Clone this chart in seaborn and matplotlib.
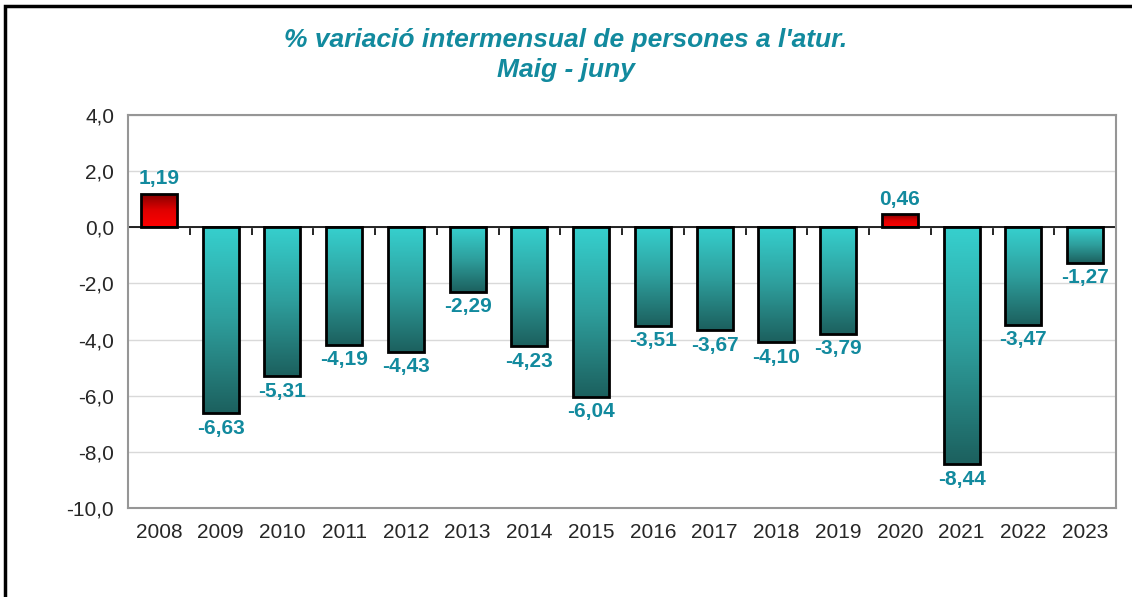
import numpy as np
import pandas as pd
import seaborn as sns
import matplotlib.pyplot as plt
from matplotlib.colors import LinearSegmentedColormap
from matplotlib.patches import Rectangle

years = ['2008', '2009', '2010', '2011', '2012', '2013', '2014', '2015',
         '2016', '2017', '2018', '2019', '2020', '2021', '2022', '2023']
values = [1.19, -6.63, -5.31, -4.19, -4.43, -2.29, -4.23, -6.04,
          -3.51, -3.67, -4.10, -3.79, 0.46, -8.44, -3.47, -1.27]
title_1 = "% variació intermensual de persones a l'atur."
title_2 = "Maig - juny"

df = pd.DataFrame({'any': years, 'variacio': values})

sns.set_style('white')
plt.rcParams['font.family'] = ['Liberation Sans', 'DejaVu Sans']

teal_txt = '#128A9E'
grid_c = '#D9D9D9'
frame_c = '#969696'

fig = plt.figure(figsize=(11.32, 5.97), dpi=100)
ax = fig.add_axes([128 / 1132, 1 - 508 / 597, (1116 - 128) / 1132, (508 - 115) / 597])

sns.barplot(data=df, x='any', y='variacio', color='#33CCCC', width=0.58,
            edgecolor='black', linewidth=2, ax=ax, zorder=3)

# gradient fill inside every bar
neg_cmap = LinearSegmentedColormap.from_list('neg', ['#1C605E', '#2E9E9C', '#36D0CE'])
pos_cmap = LinearSegmentedColormap.from_list('pos', ['#FF0000', '#E00000', '#800000'])
grad = np.linspace(0, 1, 256).reshape(-1, 1)
for p, v in zip(ax.patches, values):
    x, y, w, h = p.get_x(), p.get_y(), p.get_width(), p.get_height()
    y0, y1 = min(y, y + h), max(y, y + h)
    im = ax.imshow(grad, extent=[x, x + w, y0, y1], origin='lower', aspect='auto',
                   cmap=pos_cmap if v > 0 else neg_cmap, zorder=2)
    im.set_clip_path(p)
    p.set_facecolor('none')

# data labels
for i, v in enumerate(values):
    txt = f'{v:.2f}'.replace('.', ',')
    ax.annotate(txt, (i, v), xytext=(0, 4 if v > 0 else -4), textcoords='offset points',
                ha='center', va='bottom' if v > 0 else 'top',
                fontsize=15, fontweight='bold', color=teal_txt, zorder=5)

ax.set_xlim(-0.5, len(years) - 0.5)
ax.set_ylim(-10, 4)
yt = np.arange(-10, 4.1, 2)
ax.set_yticks(yt)
ax.set_yticklabels([f'{t:.1f}'.replace('.', ',') for t in yt], fontsize=15)
ax.tick_params(axis='y', length=5, color=frame_c, direction='out', pad=5)
ax.tick_params(axis='x', length=0, labelsize=15, pad=11)
ax.set_xlabel('')
ax.set_ylabel('')
ax.grid(axis='y', color=grid_c, linewidth=1, zorder=0)
ax.set_axisbelow(True)
for s in ax.spines.values():
    s.set_color(frame_c)
    s.set_linewidth(1.5)

# zero line with category separators
ax.axhline(0, color='black', linewidth=1.2, zorder=2.5)
zero = ax.secondary_xaxis(10 / 14)
zero.set_alignment('bottom')
zero.set_xticks(np.arange(0.5, len(years), 1.0))
zero.set_xticklabels([])
zero.tick_params(length=6, color='black', width=1.2, direction='out')
zero.spines['bottom'].set_visible(False)

fig.text(0.5, 1 - 40 / 597, title_1, ha='center', va='center', fontsize=19,
         fontweight='bold', fontstyle='italic', color=teal_txt)
fig.text(0.5, 1 - 70 / 597, title_2, ha='center', va='center', fontsize=19,
         fontweight='bold', fontstyle='italic', color=teal_txt)

# outer chart frame
fig.patches.append(Rectangle((5 / 1132, -0.05), 1.2, 1 - 6 / 597 + 0.05, transform=fig.transFigure,
                             fill=False, edgecolor='black', linewidth=2.5, zorder=0))

fig.savefig('out.png', dpi=100)
